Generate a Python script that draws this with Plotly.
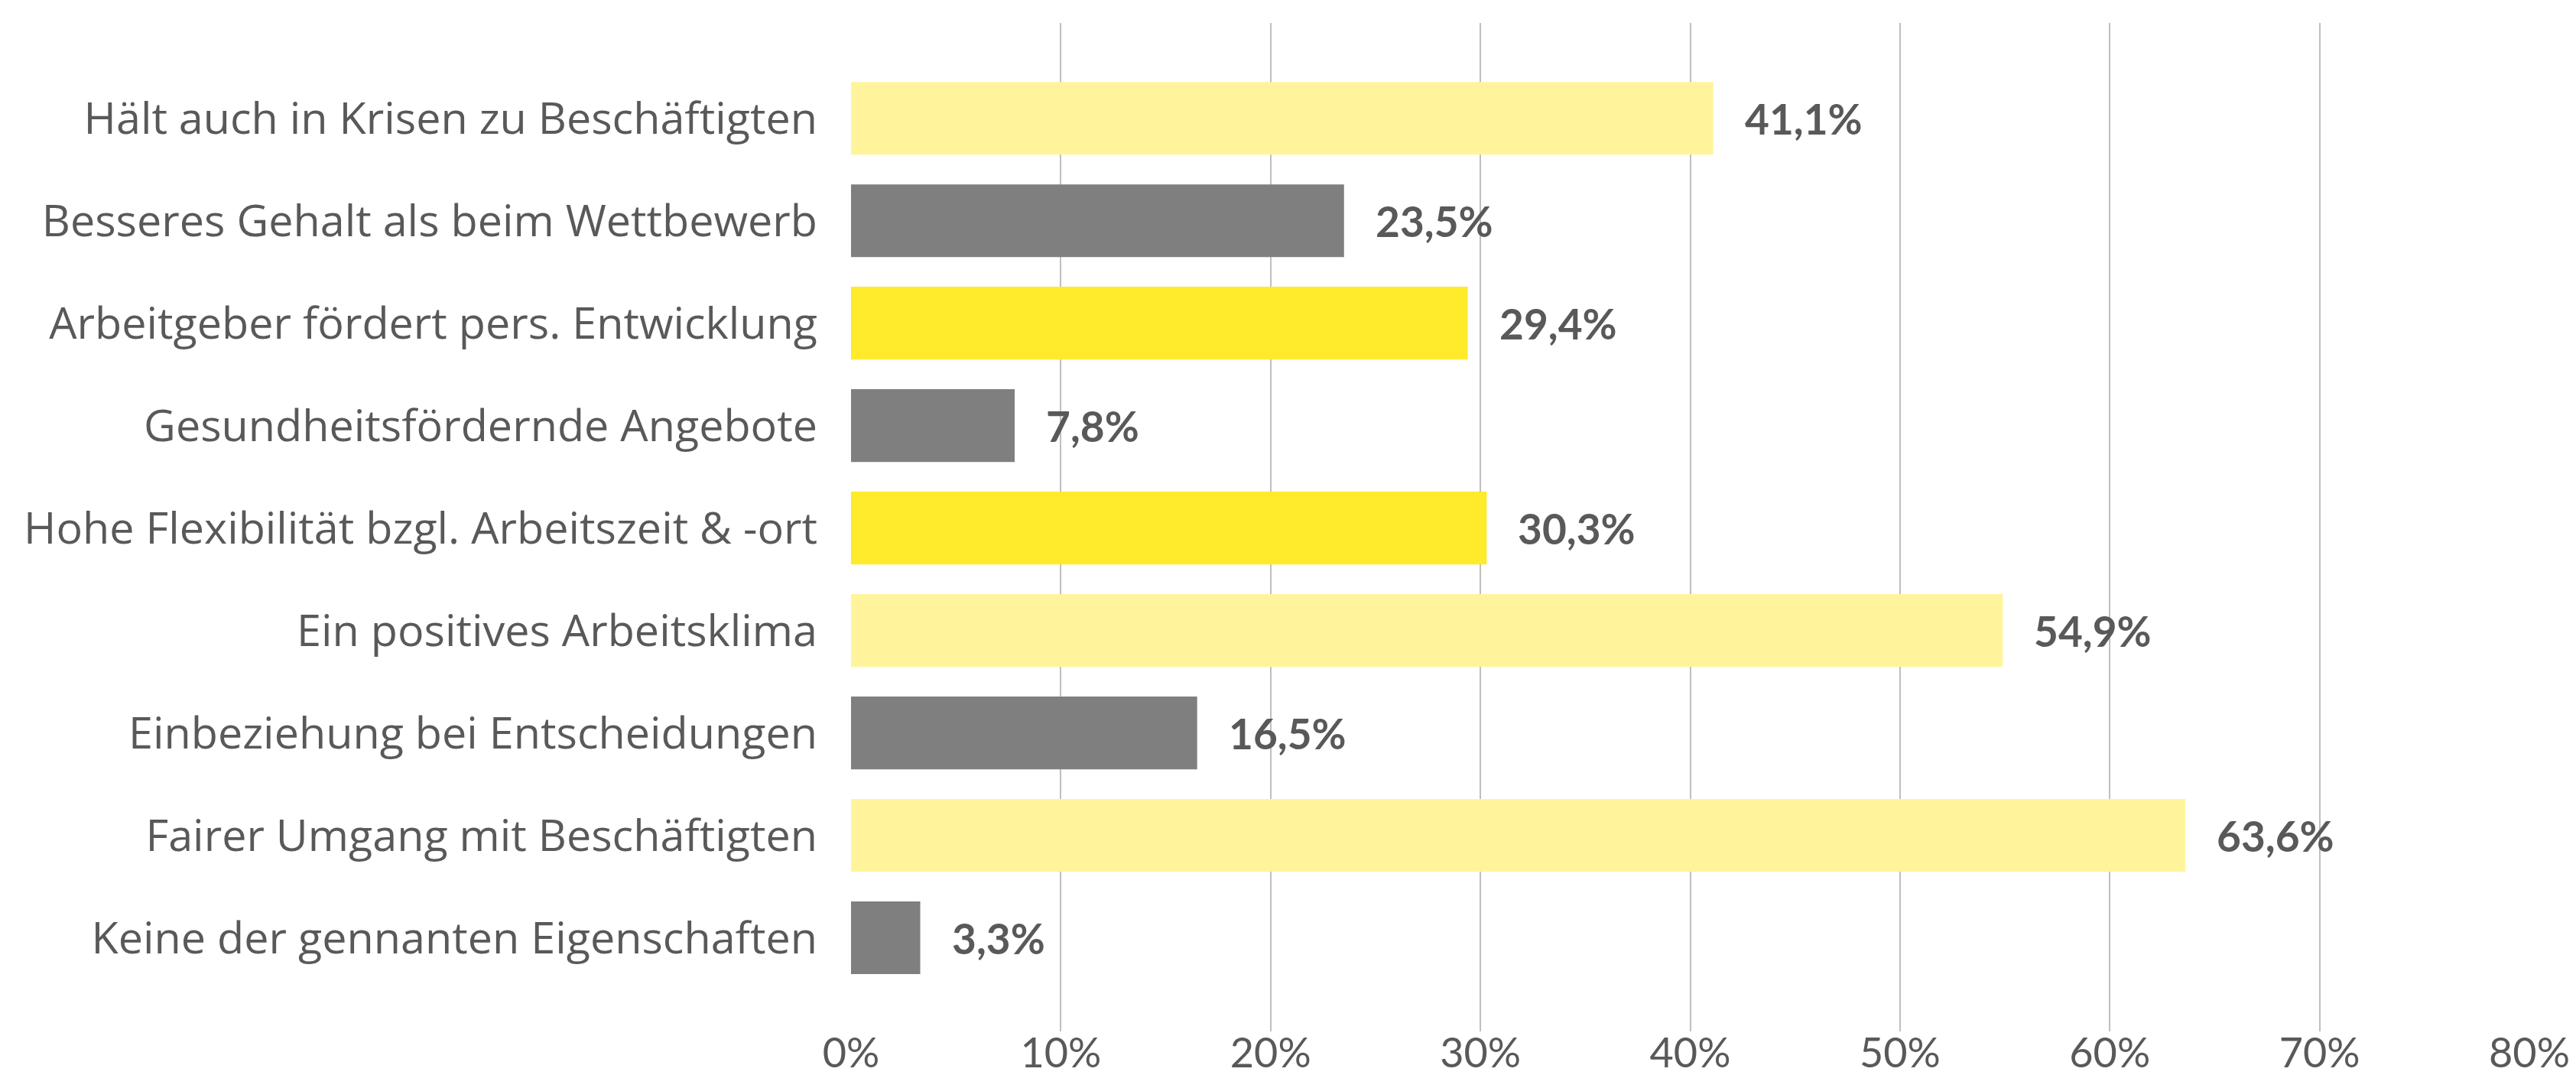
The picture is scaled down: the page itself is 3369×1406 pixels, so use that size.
import plotly.graph_objects as go

categories = [
    "Hält auch in Krisen zu Beschäftigten",
    "Besseres Gehalt als beim Wettbewerb",
    "Arbeitgeber fördert pers. Entwicklung",
    "Gesundheitsfördernde Angebote",
    "Hohe Flexibilität bzgl. Arbeitszeit & -ort",
    "Ein positives Arbeitsklima",
    "Einbeziehung bei Entscheidungen",
    "Fairer Umgang mit Beschäftigten",
    "Keine der gennanten Eigenschaften",
]
values = [41.1, 23.5, 29.4, 7.8, 30.3, 54.9, 16.5, 63.6, 3.3]
bar_colors = ["#FFF49C", "#7F7F7F", "#FFEA2B", "#7F7F7F", "#FFEA2B",
              "#FFF49C", "#7F7F7F", "#FFF49C", "#7F7F7F"]
tick_vals = [0, 10, 20, 30, 40, 50, 60, 70, 80]
tick_text = [f"{v}%" for v in tick_vals]

TXT = "#595959"

fig = go.Figure()
fig.add_trace(go.Bar(
    x=values, y=categories, orientation="h",
    marker=dict(color=bar_colors, line=dict(width=0)),
    width=0.71, hoverinfo="skip",
))

for c, v in zip(categories, values):
    fig.add_annotation(
        x=v, y=c, xref="x", yref="y",
        text="<b>" + f"{v:.1f}".replace(".", ",") + "%</b>",
        showarrow=False, xanchor="left", yanchor="middle", xshift=39,
        font=dict(family="Lato", size=55, color=TXT),
    )

fig.update_layout(
    width=3369, height=1406,
    margin=dict(l=1105, r=69, t=22, b=65, autoexpand=False),
    paper_bgcolor="white", plot_bgcolor="white",
    showlegend=False,
    font=dict(family="Open Sans", size=57.5, color=TXT),
    xaxis=dict(
        range=[0, 80], tickvals=tick_vals, ticktext=tick_text,
        showgrid=True, gridcolor="#BFBFBF", gridwidth=2,
        zeroline=False, showline=False, ticks="",
        tickfont=dict(family="Lato", size=54, color=TXT),
        ticklabelstandoff=-8,
    ),
    yaxis=dict(
        type="category", categoryorder="array", categoryarray=categories,
        range=[8.914, -0.931], showgrid=False, zeroline=False,
        showline=False, ticks="",
        tickfont=dict(family="Open Sans", size=57.5, color=TXT),
        ticklabelstandoff=43,
    ),
)

fig.write_html("out.html")
